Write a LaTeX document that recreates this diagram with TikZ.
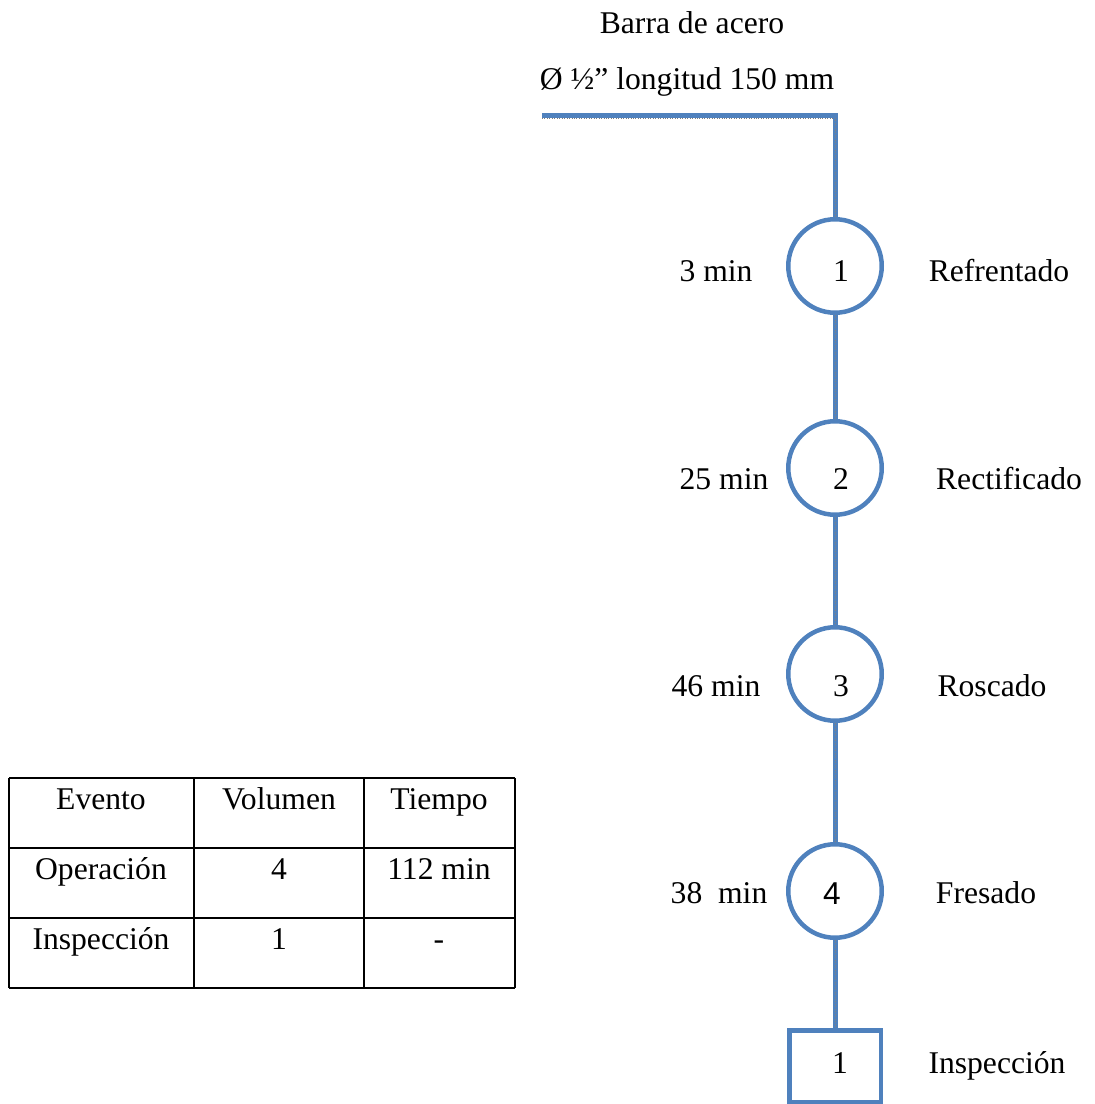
\documentclass[tikz,border=0pt]{standalone}
\usepackage{fontspec}
\setmainfont{Liberation Serif}
\newfontfamily\sansnum{Liberation Sans}
\definecolor{flowblue}{RGB}{79,129,189}

\begin{document}
\begin{tikzpicture}[x=0.02cm, y=-0.02cm,
    every node/.style={font=\fontsize{18}{22}\selectfont, text height=12.6pt, text depth=0pt},
    op/.style={circle, draw=flowblue, line width=0.09cm, minimum size=1.87cm, inner sep=0pt},
    insp/.style={rectangle, draw=flowblue, line width=0.09cm, minimum width=1.83cm, minimum height=1.43cm, inner sep=0pt},
    link/.style={draw=flowblue, line width=0.1cm},
    grain/.style={draw=gray, line width=0.4pt, densely dotted},
    cell/.style={draw=black, line width=0.8pt}]

\useasboundingbox (0,0) rectangle (1094,1104);

% Title of the raw material
\node (mat) at (692,22) {Barra de acero};
\node (dim) at (687,78) {Ø ½” longitud 150 mm};

% Operations and inspection
\node[op] (op1) at (835,266) {};
\node[op] (op2) at (835,468) {};
\node[op] (op3) at (835,674) {};
\node[op] (op4) at (835,891) {};
\node[insp] (ins1) at (835,1066) {};

% Numbers inside the symbols
\node (num1) at (841,270) {1};
\node (num2) at (841,478) {2};
\node (num3) at (841,685) {3};
\node[font=\fontsize{18}{22}\sansnum] (num4) at (832,893) {4};
\node (num5) at (840,1062) {1};

% Entry line
\coordinate (start) at (542,116);
\coordinate (corner) at (835,116);
\draw[link] (start) -- (corner) -- (op1);
\draw[grain] ([yshift=-0.04cm]start) -- ([yshift=-0.04cm]corner) -- (op1);

% Connectors between the events
\foreach \a/\b in {op1/op2, op2/op3, op3/op4, op4/ins1} {
    \draw[link] (\a) -- (\b);
    \draw[grain] (\a) -- (\b);
}

% Times on the left
\node (t1) at (716,270) {3 min};
\node (t2) at (724,478) {25 min};
\node (t3) at (716,685) {46 min};
\node (t4) at (719,892) {38\ \ min};

% Names on the right
\node (n1) at (999,270) {Refrentado};
\node (n2) at (1009,478) {Rectificado};
\node (n3) at (992,685) {Roscado};
\node (n4) at (986,892) {Fresado};
\node (n5) at (997,1062) {Inspección};

% Summary table
\foreach \y in {778,848,918,988} {
    \draw[cell] (9,\y) -- (515,\y);
}
\foreach \x in {9,194,364,515} {
    \draw[cell] (\x,778) -- (\x,988);
}
\foreach \n/\x/\y/\t in {hev/101/798/Evento, hvol/279/798/Volumen, htie/439/798/Tiempo,
        rop/101/868/Operación, vop/279/868/4, top/439/868/112 min,
        rin/101/938/Inspección, vin/279/938/1, tin/439/938/-} {
    \node (\n) at (\x,\y) {\t};
}

\end{tikzpicture}
\end{document}
